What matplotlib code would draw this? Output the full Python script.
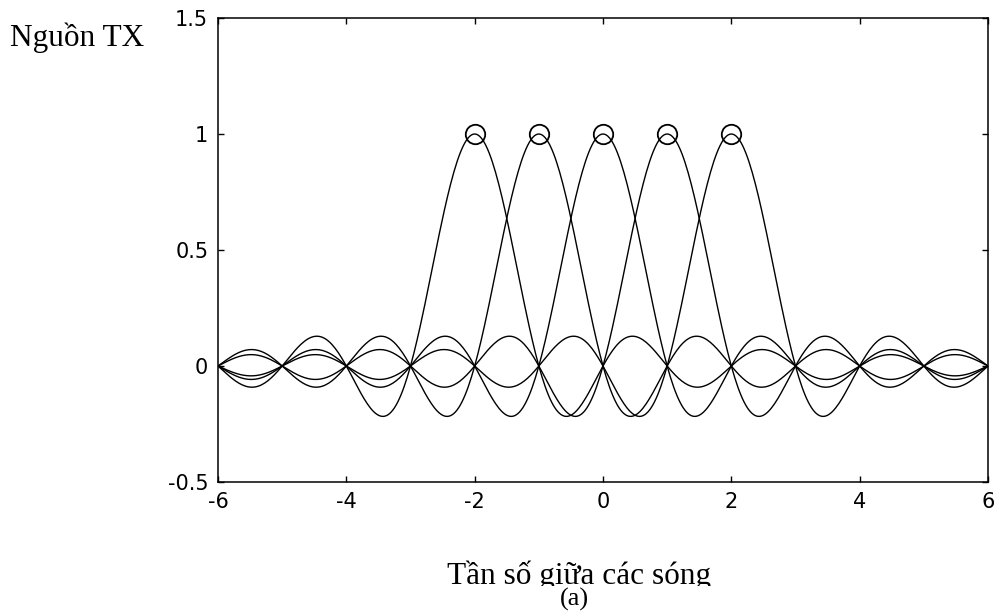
import numpy as np
import matplotlib
matplotlib.use('Agg')
import matplotlib.pyplot as plt
from matplotlib.patches import Rectangle

# subcarrier centre frequencies and their peak amplitudes
centers = [-2, -1, 0, 1, 2]
peaks = [1, 1, 1, 1, 1]
f_range = [-6, 6]
x_ticks = [-6, -4, -2, 0, 2, 4, 6]
y_ticks = [-0.5, 0, 0.5, 1, 1.5]

fig = plt.figure(figsize=(9.96, 6.16), dpi=100)
ax = fig.add_axes([218 / 996, 134 / 616, 770 / 996, 464 / 616])

f = np.linspace(f_range[0], f_range[1], 481)
for c, p in zip(centers, peaks):
    ax.plot(f, p * np.sinc(f - c), color='black', linewidth=1.0)

ax.plot(centers, peaks, 'o', markersize=14, markerfacecolor='none',
        markeredgecolor='black', markeredgewidth=1.3)

ax.set_xlim(f_range)
ax.set_ylim(-0.5, 1.5)
ax.set_xticks(x_ticks)
ax.set_yticks(y_ticks)
ax.set_xticklabels([str(t) for t in x_ticks])
ax.set_yticklabels(['-0.5', '0', '0.5', '1', '1.5'])
ax.tick_params(direction='in', length=4, width=1, top=True, right=True,
               labelsize=15, pad=7)
for s in ax.spines.values():
    s.set_linewidth(1.1)

serif = ['Liberation Serif', 'DejaVu Serif']
fig.text(10 / 996, 1 - 46 / 616, 'Nguồn TX', family=serif, fontsize=22.5,
         ha='left', va='baseline')
fig.text(579 / 996, 1 - 584 / 616, 'Tần số giữa các sóng', family=serif,
         fontsize=22.5, ha='center', va='baseline', zorder=3)
# the caption box hides the bottom of the axis label
fig.patches.append(Rectangle((0.3, 0), 0.5, 1 - 586 / 616, transform=fig.transFigure,
                             facecolor='white', edgecolor='none', zorder=4))
fig.text(574 / 996, 1 - 606 / 616, '(a)', family=serif, fontsize=19,
         ha='center', va='baseline', zorder=5)

fig.savefig('out.png', dpi=100)
